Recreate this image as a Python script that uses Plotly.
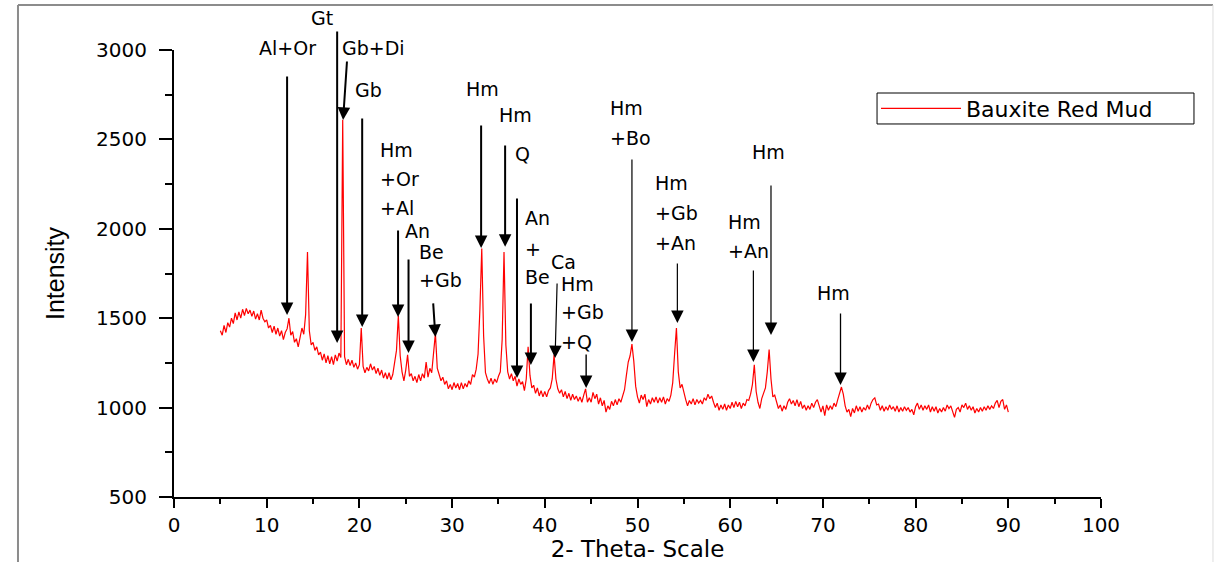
import plotly.graph_objects as go

# ---------------- data ----------------
theta_start = 5.0
theta_step = 0.2

intensity = [
    1430, 1405, 1460, 1420, 1475,   # 5.0 - 5.8
    1450, 1500, 1470, 1530, 1490,   # 6
    1535, 1500, 1550, 1515, 1555,   # 7
    1525, 1545, 1510, 1540, 1495,   # 8
    1525, 1490, 1545, 1500, 1480,   # 9
    1490, 1445, 1460, 1420, 1455,   # 10
    1410, 1445, 1400, 1430, 1380,   # 11
    1420, 1440, 1500, 1405, 1425,   # 12
    1365, 1385, 1340, 1400, 1445,   # 13
    1410, 1520, 1870, 1430, 1350,   # 14
    1365, 1320, 1340, 1295, 1310,   # 15
    1265, 1300, 1250, 1290, 1245,   # 16
    1285, 1240, 1295, 1260, 1305,   # 17
    1280, 2610, 1285, 1240, 1270,   # 18
    1235, 1265, 1225, 1250, 1215,   # 19
    1240, 1445, 1230, 1195, 1225,   # 20
    1205, 1245, 1210, 1230, 1190,   # 21
    1220, 1180, 1210, 1165, 1195,   # 22
    1160, 1195, 1155, 1185, 1250,   # 23
    1320, 1515, 1290, 1200, 1150,   # 24
    1210, 1295, 1175, 1190, 1150,   # 25
    1175, 1140, 1185, 1150, 1190,   # 26
    1165, 1255, 1170, 1220, 1195,   # 27
    1290, 1415, 1220, 1185, 1150,   # 28
    1170, 1130, 1150, 1105, 1130,   # 29
    1100, 1140, 1110, 1135, 1100,   # 30
    1140, 1105, 1135, 1115, 1150,   # 31
    1130, 1185, 1170, 1215, 1300,   # 32
    1550, 1890, 1400, 1195, 1160,   # 33
    1135, 1165, 1130, 1160, 1140,   # 34
    1175, 1200, 1380, 1870, 1350,   # 35
    1200, 1160, 1190, 1150, 1175,   # 36
    1120, 1160, 1130, 1145, 1095,   # 37
    1160, 1340, 1180, 1110, 1125,   # 38
    1080, 1110, 1065, 1095, 1060,   # 39
    1090, 1060, 1095, 1110, 1160,   # 40
    1295, 1160, 1105, 1080, 1100,   # 41
    1060, 1090, 1050, 1080, 1040,   # 42
    1075, 1045, 1065, 1035, 1060,   # 43
    1030, 1070, 1105, 1030, 1055,   # 44
    1030, 1085, 1050, 1075, 1020,   # 45
    1055, 1010, 1040, 975, 1010,    # 46
    990, 1035, 1010, 1045, 1015,    # 47
    1050, 1030, 1065, 1100, 1180,   # 48
    1255, 1290, 1355, 1260, 1120,   # 49
    1060, 1025, 1070, 1045, 1075,   # 50
    1005, 1045, 1020, 1055, 1030,   # 51
    1060, 1025, 1055, 1030, 1060,   # 52
    1020, 1050, 1035, 1070, 1140,   # 53
    1300, 1445, 1200, 1110, 1130,   # 54
    1080, 1045, 1010, 1040, 1020,   # 55
    1050, 1015, 1045, 1025, 1040,   # 56
    1020, 1055, 1040, 1075, 1050,   # 57
    1065, 1030, 1000, 1025, 985,    # 58
    1015, 990, 1020, 985, 1015,     # 59
    995, 1030, 1000, 1035, 1005,    # 60
    1030, 995, 1025, 1010, 1045,    # 61
    1040, 1075, 1130, 1240, 1090,   # 62
    1030, 995, 1050, 1080, 1110,    # 63
    1200, 1325, 1160, 1060, 1070,   # 64
    1025, 995, 1015, 980, 1010,     # 65
    990, 1030, 1050, 1020, 1040,    # 66
    1010, 1045, 1005, 1035, 995,    # 67
    1015, 985, 1010, 990, 1025,     # 68
    1000, 1030, 1045, 1005, 975,    # 69
    1010, 955, 1015, 985, 1010,     # 70
    990, 1025, 1005, 1045, 1080,    # 71
    1115, 1075, 1010, 975, 990,     # 72
    950, 995, 970, 1010, 980,       # 73
    1005, 975, 1000, 985, 1015,     # 74
    990, 1025, 1045, 1055, 1015,    # 75
    1020, 985, 1010, 980, 1005,     # 76
    985, 1015, 990, 1005, 980,      # 77
    1010, 975, 1000, 980, 1005,     # 78
    985, 1000, 975, 990, 960,       # 79
    1005, 1025, 990, 1015, 985,     # 80
    1010, 990, 1015, 975, 1005,     # 81
    980, 1005, 970, 995, 975,       # 82
    1000, 980, 1015, 995, 1010,     # 83
    975, 945, 990, 1000, 975,       # 84
    1015, 1000, 1025, 990, 1010,    # 85
    985, 1005, 970, 995, 975,       # 86
    1000, 980, 1005, 985, 1010,     # 87
    990, 1010, 995, 1025, 1040,     # 88
    1000, 1035, 1045, 990, 1015,    # 89
    975,                            # 90
]
two_theta = [round(theta_start + i * theta_step, 1) for i in range(len(intensity))]

# phase-marker arrows: head (x, y) <- tail (x, y), line width
arrow_head_x = [12.2, 17.6, 18.24, 20.3, 24.17, 25.3, 28.2, 33.13, 35.72, 37.0,
                38.5, 41.11, 44.46, 49.4, 54.3, 62.5, 64.4, 71.9]
arrow_head_y = [1518, 1361, 2609, 1451, 1507, 1305, 1395, 1893, 1900, 1166,
                1238, 1277, 1110, 1367, 1473, 1255, 1406, 1126]
arrow_tail_x = [12.2, 17.6, 18.67, 20.3, 24.17, 25.3, 27.95, 33.13, 35.72, 37.0,
                38.5, 41.33, 44.46, 49.4, 54.3, 62.5, 64.4, 71.9]
arrow_tail_y = [2860, 3112, 2944, 2625, 1999, 1837, 1591, 2586, 2474, 2178,
                1591, 1702, 1305, 2396, 1814, 1775, 2251, 1535]
arrow_width = [2, 2, 2, 2, 2, 2, 2, 2, 2, 2,
               2, 1.2, 1.4, 1.2, 1.2, 1.2, 1.2, 1.3]

# phase labels
label_text = ["Gt", "Al+Or", "Gb+Di", "Gb",
              "Hm", "+Or", "+Al", "An", "Be", "+Gb",
              "Hm", "Hm", "Q", "An", "+", "Be", "Ca",
              "Hm", "+Gb", "+Q", "Hm", "+Bo",
              "Hm", "+Gb", "+An", "Hm", "+An", "Hm", "Hm"]
label_x = [16.0, 12.2, 17.9, 19.3,
           22.0, 22.0, 22.0, 24.7, 26.2, 26.2,
           33.3, 34.85, 36.6, 37.66, 37.66, 37.66, 40.47,
           41.55, 41.55, 41.55, 46.83, 46.83,
           51.69, 51.69, 51.69, 59.57, 59.57, 62.16, 69.17]
label_y = [3179, 3011, 3011, 2776,
           2441, 2279, 2116, 1988, 1870, 1714,
           2782, 2637, 2418, 2060, 1887, 1730, 1815,
           1690, 1535, 1367, 2676, 2508,
           2256, 2088, 1921, 2038, 1876, 2430, 1641]
label_anchor = ["center", "center", "left", "left",
                "left", "left", "left", "left", "left", "left",
                "center", "left", "left", "left", "left", "left", "left",
                "left", "left", "left", "left", "left",
                "left", "left", "left", "left", "left", "left", "left"]

Y_MIN, Y_MAX = 500, 3000

fig = go.Figure()
fig.add_trace(go.Scatter(
    x=two_theta, y=intensity, mode="lines", name="Bauxite Red Mud",
    line=dict(color="#ff0000", width=1.2),
))

annotations = []
for hx, hy, tx, ty, w in zip(arrow_head_x, arrow_head_y, arrow_tail_x, arrow_tail_y, arrow_width):
    annotations.append(dict(
        x=hx, y=hy, ax=tx, ay=ty, xref="x", yref="y", axref="x", ayref="y",
        showarrow=True, arrowhead=2, arrowwidth=w, arrowsize=2.5 / w,
        arrowcolor="#000000", text="", standoff=0,
    ))
for t, lx, ly, anc in zip(label_text, label_x, label_y, label_anchor):
    annotations.append(dict(
        x=lx, y=(ly - Y_MIN) / (Y_MAX - Y_MIN), xref="x", yref="paper",
        text=t, showarrow=False, xanchor=anc, yanchor="middle",
        font=dict(family="DejaVu Sans", size=19, color="#000000"),
    ))

# outer frame of the figure and legend box
frame = dict(type="line", xref="paper", yref="paper", line=dict(color="#8c8c8c", width=2))
shapes = [
    dict(frame, x0=-0.1683, x1=1.1208, y0=1.1007, y1=1.1007),
    dict(frame, x0=-0.1683, x1=-0.1683, y0=1.1007, y1=-0.16),
    dict(type="line", xref="paper", yref="paper", x0=1.1208, x1=1.1208, y0=1.1007, y1=-0.16,
         line=dict(color="#dddddd", width=1)),
    dict(type="rect", xref="paper", yref="paper", x0=0.7584, x1=1.1003, y0=0.8345, y1=0.9038,
         line=dict(color="#000000", width=1), fillcolor="rgba(0,0,0,0)"),
]

fig.update_layout(
    width=1215, height=562,
    margin=dict(l=174, r=114, t=50, b=65, autoexpand=False),
    paper_bgcolor="white", plot_bgcolor="white",
    font=dict(family="DejaVu Sans", color="#000000"),
    showlegend=True,
    legend=dict(
        x=0.7573, y=0.869, xanchor="left", yanchor="middle",
        borderwidth=0, bgcolor="rgba(0,0,0,0)",
        font=dict(family="DejaVu Sans", size=22, color="#000000"),
        itemwidth=80,
    ),
    annotations=annotations,
    shapes=shapes,
    xaxis=dict(
        range=[0, 100], tickmode="array", tickvals=list(range(0, 101, 10)),
        showgrid=False, zeroline=False, showline=True, linecolor="#000000", linewidth=2,
        ticks="outside", ticklen=9, tickwidth=2, tickcolor="#000000",
        minor=dict(ticks="outside", ticklen=5, tickwidth=2, tickcolor="#000000", dtick=5, showgrid=False),
        tickfont=dict(family="DejaVu Sans", size=20), ticklabelstandoff=0,
        title=dict(text="2- Theta- Scale", font=dict(family="DejaVu Sans", size=23), standoff=6),
    ),
    yaxis=dict(
        range=[Y_MIN, Y_MAX], tickmode="array", tickvals=list(range(500, 3001, 500)),
        showgrid=False, zeroline=False, showline=True, linecolor="#000000", linewidth=2,
        ticks="outside", ticklen=13, tickwidth=2, tickcolor="#000000",
        minor=dict(ticks="outside", ticklen=7, tickwidth=2, tickcolor="#000000", dtick=250, showgrid=False),
        tickfont=dict(family="DejaVu Sans", size=20), ticklabelstandoff=8,
        title=dict(text="Intensity", font=dict(family="Liberation Sans", size=25), standoff=24),
    ),
)

fig.write_html("out.html", config={"displayModeBar": False},
               post_script="document.body.style.margin='0px';")
